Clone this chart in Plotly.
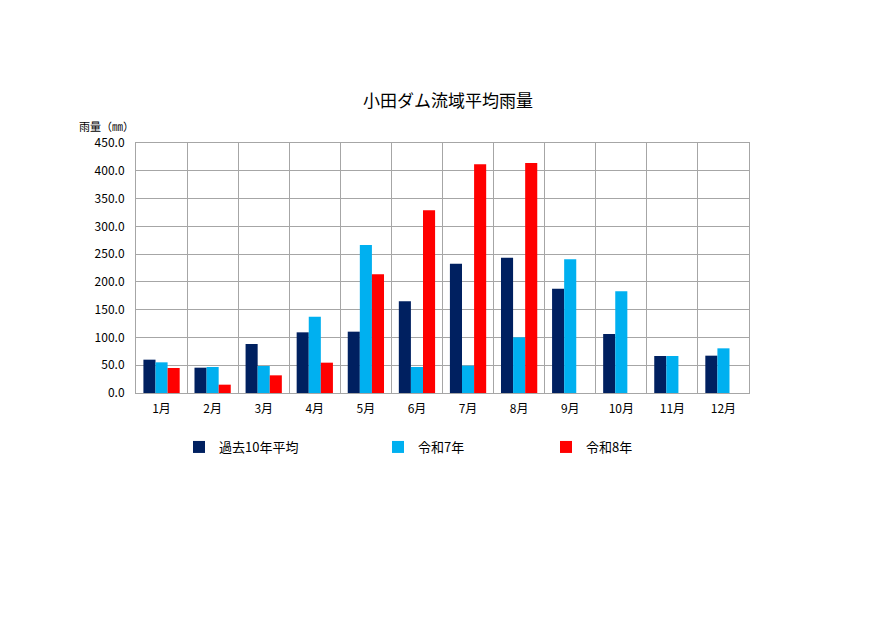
import plotly.graph_objects as go

# 月別の流域平均雨量 (mm)
months = ["1月", "2月", "3月", "4月", "5月", "6月", "7月", "8月", "9月", "10月", "11月", "12月"]
avg_10yr = [60.0, 45.6, 88.2, 109.2, 110.4, 165.0, 232.8, 243.6, 187.8, 106.2, 66.6, 67.2]
reiwa7 = [55.2, 46.8, 48.6, 137.4, 266.4, 46.8, 49.2, 100.2, 240.6, 183.0, 66.6, 80.4]
reiwa8 = [45.0, 15.0, 31.8, 54.6, 213.6, 328.8, 411.6, 414.0, None, None, None, None]

y_ticks = [0, 50, 100, 150, 200, 250, 300, 350, 400, 450]
y_labels = [f"{v:.1f}" for v in y_ticks]

FONT = "Noto Sans CJK JP"
GRID = "#a6a6a6"
W, H = 890, 630
OFF = 8  # the page body adds an 8px margin

# plot area in figure pixels
PL, PR, PT, PB = 136 - OFF, 749 - OFF, 143 - OFF, 393 - OFF

fig = go.Figure()
fig.add_trace(go.Bar(x=months, y=avg_10yr, name="過去10年平均",
                     marker=dict(color="#002060", line=dict(width=0)), legend="legend"))
fig.add_trace(go.Bar(x=months, y=reiwa7, name="令和7年",
                     marker=dict(color="#00b0f0", line=dict(width=0)), legend="legend2"))
fig.add_trace(go.Bar(x=months, y=reiwa8, name="令和8年",
                     marker=dict(color="#ff0000", line=dict(width=0)), legend="legend3"))

leg_y = 1 - (447 - OFF) / H
leg = dict(orientation="h", xref="container", yref="container", yanchor="middle", y=leg_y,
           bgcolor="rgba(0,0,0,0)", font=dict(family=FONT, size=13, color="black"),
           itemwidth=30)

fig.update_layout(
    width=W, height=H,
    margin=dict(l=PL, r=W - PR, t=PT, b=H - PB),
    paper_bgcolor="white", plot_bgcolor="white",
    font=dict(family=FONT, size=12, color="black"),
    showlegend=True,
    barmode="group", bargap=0.29, bargroupgap=0,
    title=dict(text="小田ダム流域平均雨量", x=(448 - OFF) / W, xanchor="center",
               y=1 - (101 - OFF) / H, yanchor="middle",
               font=dict(family=FONT, size=17, color="black")),
    legend=dict(leg, x=(179 - OFF) / W),
    legend2=dict(leg, x=(378 - OFF) / W),
    legend3=dict(leg, x=(546 - OFF) / W),
    annotations=[dict(text="雨量（㎜）", xref="paper", yref="paper",
                      x=((77 - OFF) - PL) / (PR - PL), y=(PB - (126 - OFF)) / (PB - PT),
                      xanchor="left", yanchor="middle",
                      showarrow=False, font=dict(family=FONT, size=11, color="black"))],
)

fig.update_xaxes(type="category", tickson="boundaries", showgrid=True, gridcolor=GRID,
                 gridwidth=1, showline=True, linecolor=GRID, linewidth=1, mirror=True,
                 ticks="", ticklabelstandoff=5,
                 tickfont=dict(family=FONT, size=12, color="black"))
fig.update_yaxes(range=[0, 450], tickvals=y_ticks, ticktext=y_labels, showgrid=True,
                 gridcolor=GRID, gridwidth=1, showline=True, linecolor=GRID, linewidth=1,
                 mirror=True, ticks="", zeroline=False, ticklabelstandoff=8,
                 tickfont=dict(family=FONT, size=12, color="black"))

fig.write_html("out.html")
